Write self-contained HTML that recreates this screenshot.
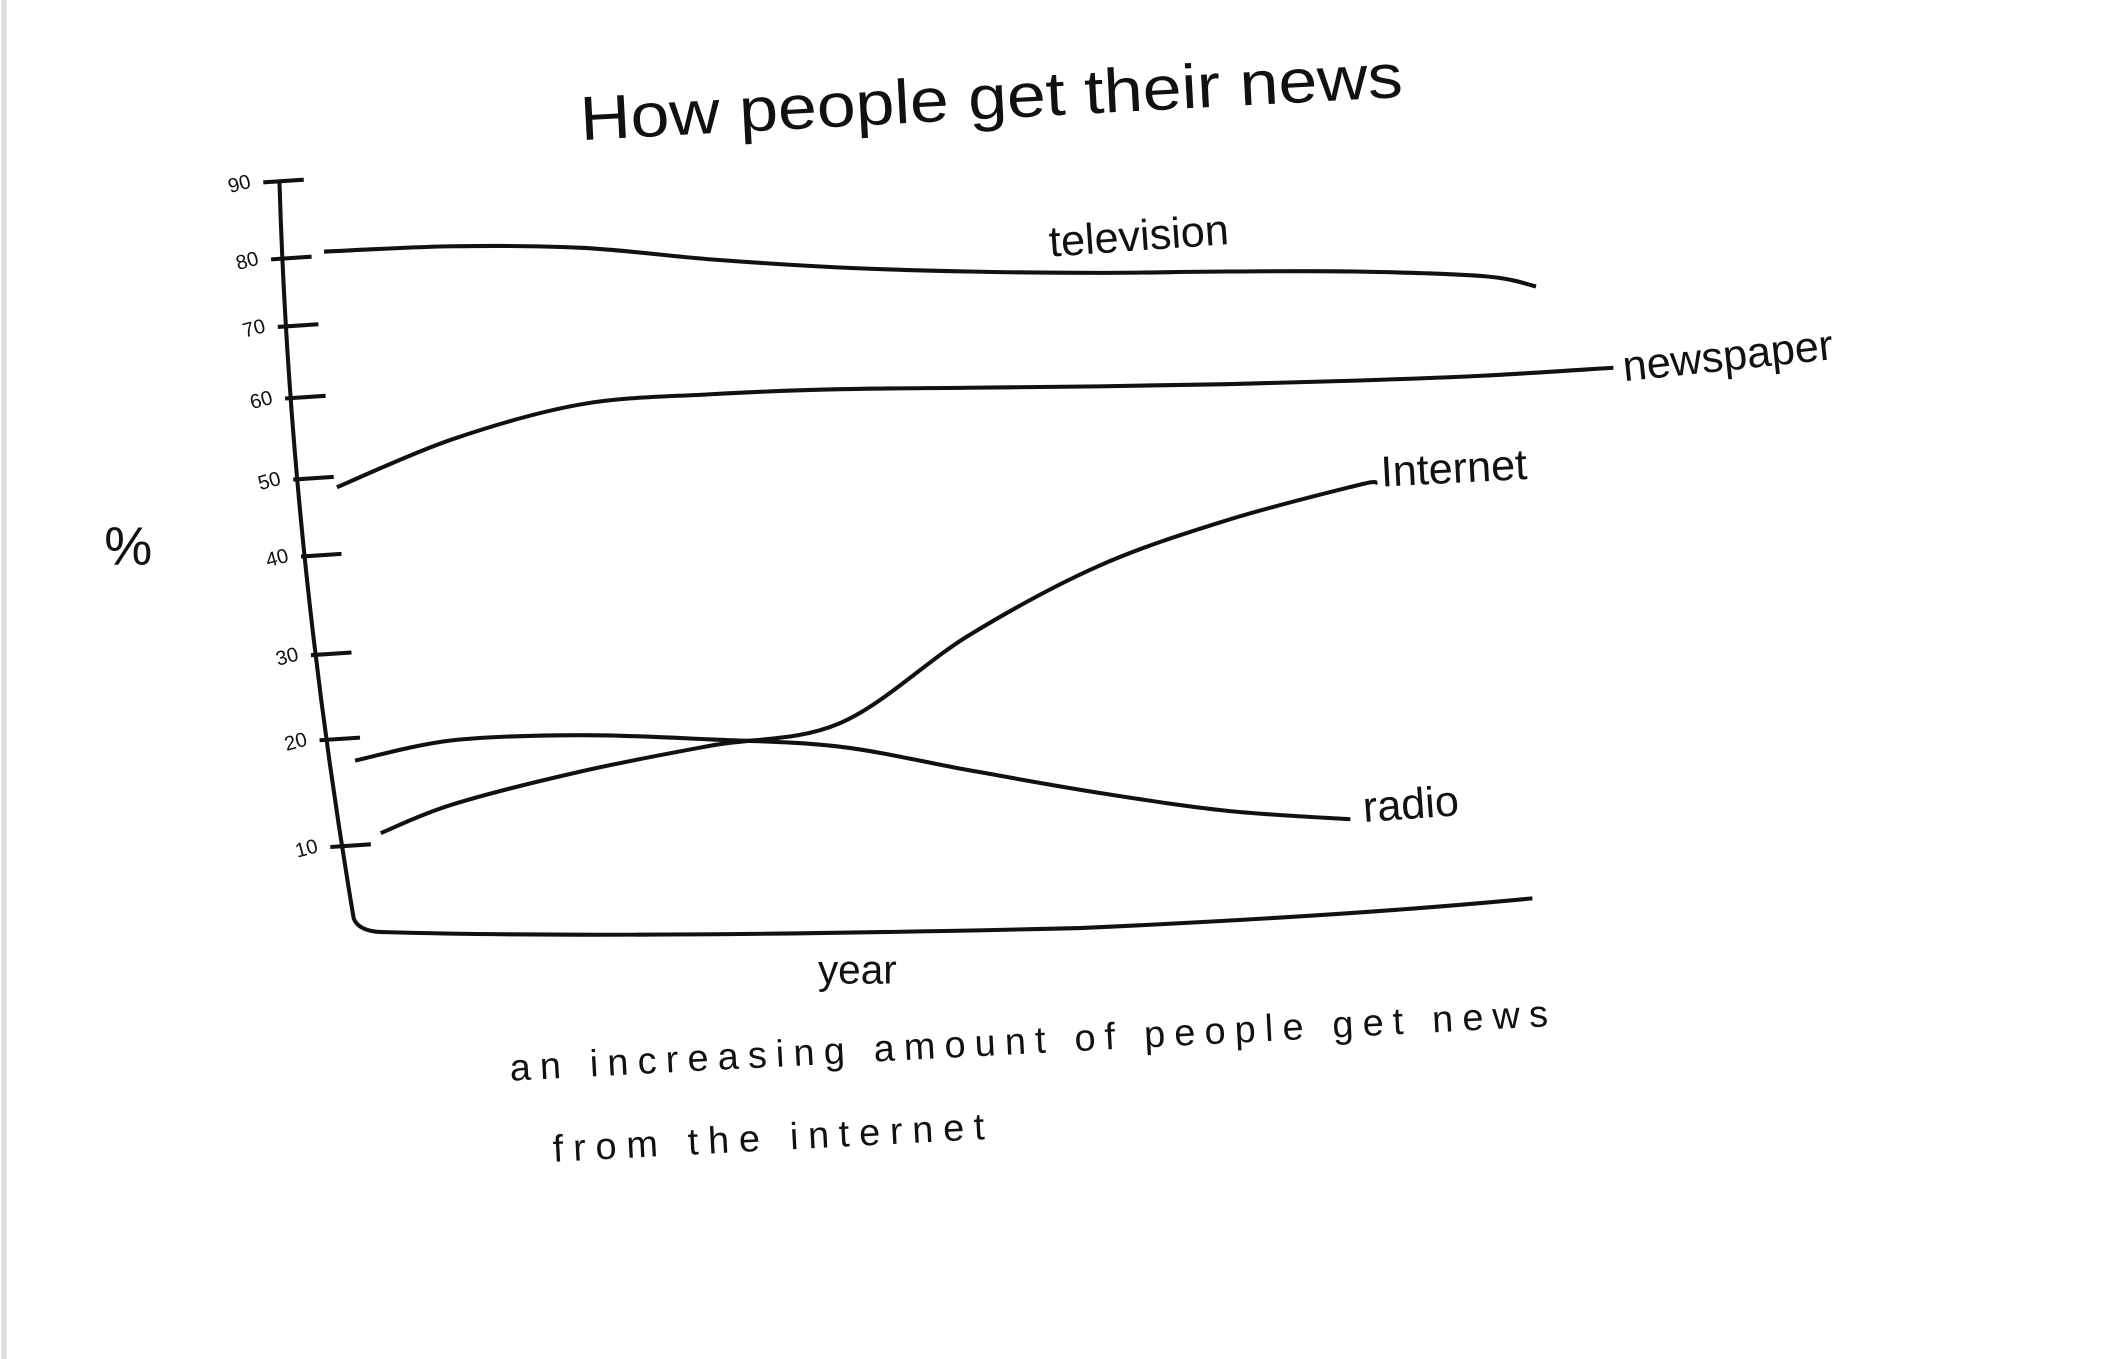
<!DOCTYPE html>
<html><head><meta charset="utf-8"><style>
html,body{margin:0;padding:0;background:#fff;}
svg{display:block;}
text{font-family:"Liberation Sans",sans-serif;fill:#111;}
</style></head><body>
<svg id="chart" width="2117" height="1359" viewBox="0 0 1568 1006" preserveAspectRatio="none" xmlns="http://www.w3.org/2000/svg">
<rect x="0" y="0" width="1568" height="1006" fill="#fff"/>
<line x1="3" y1="0" x2="3" y2="1006" stroke="#ddd" stroke-width="4"/>
<text x="430" y="88" font-size="46" textLength="610" lengthAdjust="spacingAndGlyphs" transform="rotate(-3 730 88)">How people get their news</text>
<text x="95" y="418" font-size="40" text-anchor="middle">%</text>
<text x="635" y="728" font-size="30" text-anchor="middle">year</text>
<text x="378" y="800" font-size="28" textLength="770" lengthAdjust="spacing" transform="rotate(-3 378 800)">an increasing amount of people get news</text>
<text x="410" y="860" font-size="28" textLength="320" lengthAdjust="spacing" transform="rotate(-3 410 860)">from the internet</text>
<path d="M207,135 Q215,400 262,680 Q266,690 285,690 Q460,695 800,687 Q1000,678 1135,665" fill="none" stroke="#111" stroke-width="3"/>
<g id="ticks"></g>
<g id="series"></g>
</svg>
<script>
const tickLabels=["10","20","30","40","50","60","70","80","90"];
const tickValues=[10,20,30,40,50,60,70,80,90];
const tvYears=[0,1,2,3,4,5,6,7,8,9,9.4];
const tvValues=[81,81.7,81.5,80,78.8,78.2,78,78.2,78.2,77.5,76];
const newsYears=[0.1,1,2,3,4,5,6,7,8,9,10];
const newsValues=[49,55,59.3,60.6,61.3,61.5,61.7,62,62.5,63.2,64.3];
const netYears=[0.44,1,2,3,4,5,6,7,8,8.17];
const netValues=[11.3,14,17.1,19.5,22,32,39,44.7,49.2,49.6];
const radioYears=[0.24,1,2,3,4,5,6,7,7.96];
const radioValues=[18.1,20,20.6,20.1,19.4,17.2,15.1,13.4,12.6];

const axV=[0,10,20,30,40,50,60,70,80,90];
const axY=[688,627,548,485,412,355,295,242,192,135];
function yScale(v){
  for(let i=0;i<axV.length-1;i++){
    if(v<=axV[i+1]||i===axV.length-2){
      const t=(v-axV[i])/(axV[i+1]-axV[i]);
      return axY[i]+t*(axY[i+1]-axY[i]);
    }
  }
}
function xScale(y){return 240+y*95.5;}
function axisX(py){return 207+(py-135)/(680-135)*55;}
const NS="http://www.w3.org/2000/svg";
const tg=document.getElementById('ticks');
tickValues.forEach((v,i)=>{
  const py=yScale(v), ax=axisX(py);
  const l=document.createElementNS(NS,'line');
  l.setAttribute('x1',ax-12);l.setAttribute('x2',ax+18);
  l.setAttribute('y1',py);l.setAttribute('y2',py-2);
  l.setAttribute('stroke','#111');l.setAttribute('stroke-width','3');
  
  
  tg.appendChild(l);
  const t=document.createElementNS(NS,'text');
  t.setAttribute('x',ax-30);t.setAttribute('y',py+6);
  t.setAttribute('font-size','15');t.setAttribute('text-anchor','middle');
  t.setAttribute('transform','rotate(-15 '+(ax-30)+' '+py+')');
  t.textContent=tickLabels[i];
  
  
  tg.appendChild(t);
});
function smooth(pts){
  let d='M'+pts[0][0]+','+pts[0][1];
  for(let i=0;i<pts.length-1;i++){
    const p0=pts[Math.max(0,i-1)],p1=pts[i],p2=pts[i+1],p3=pts[Math.min(pts.length-1,i+2)];
    const c1=[p1[0]+(p2[0]-p0[0])/6,p1[1]+(p2[1]-p0[1])/6];
    const c2=[p2[0]-(p3[0]-p1[0])/6,p2[1]-(p3[1]-p1[1])/6];
    d+=' C'+c1[0]+','+c1[1]+' '+c2[0]+','+c2[1]+' '+p2[0]+','+p2[1];
  }
  return d;
}
const sg=document.getElementById('series');
function addSeries(name,ys,vs,label,dx,dy,rot){
  const pts=ys.map((y,i)=>[xScale(y),yScale(vs[i])]);
  const p=document.createElementNS(NS,'path');
  p.setAttribute('d',smooth(pts));
  p.setAttribute('fill','none');p.setAttribute('stroke','#111');p.setAttribute('stroke-width','3');
  
  
  sg.appendChild(p);
  const last=pts[pts.length-1];
  const t=document.createElementNS(NS,'text');
  const tx=last[0]+dx, ty=last[1]+dy;
  t.setAttribute('x',tx);t.setAttribute('y',ty);t.setAttribute('font-size','32');
  t.setAttribute('transform','rotate('+rot+' '+tx+' '+ty+')');
  t.textContent=label;
  
  
  sg.appendChild(t);
}
addSeries('television',tvYears,tvValues,'television',-360,-22,-4);
addSeries('newspaper',newsYears,newsValues,'newspaper',8,10,-6);
addSeries('internet',netYears,netValues,'Internet',3,3,-3);
addSeries('radio',radioYears,radioValues,'radio',10,2,-4);
</script>
</body></html>
